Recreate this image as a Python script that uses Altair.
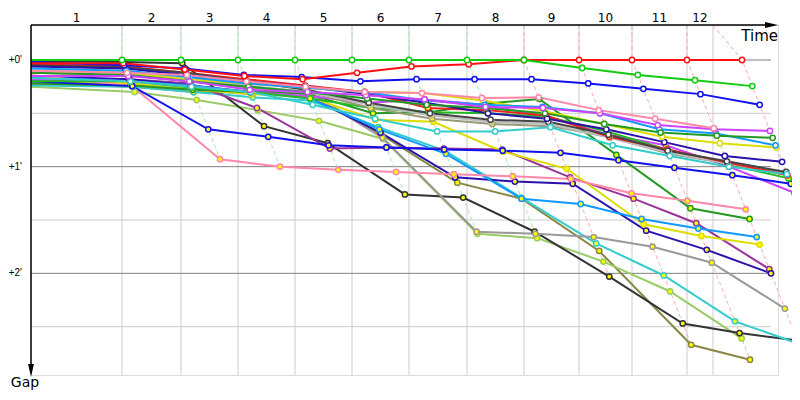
import altair as alt
import pandas as pd

# ---- checkpoint data (minutes) ----
grid_times = [2.167, 3.571, 4.929, 6.286, 7.643, 9.0, 10.381, 11.738, 13.048, 14.31, 15.619, 16.238]
leader_times = [2.167, 3.571, 4.929, 6.286, 7.643, 9.0, 10.381, 11.738, 13.048, 14.31, 15.619, 16.929]
lap_labels = ["1", "2", "3", "4", "5", "6", "7", "8", "9", "10", "11", "12"]
dash_colors = ["#a8e8a8"] * 7 + ["#ffaaaa"] * 5
gap_ticks = [0, 1, 2]
gap_tick_labels = ["+0'", "+1'", "+2'"]
major_lines = [0, 1, 2]
minor_lines = [0.5, 1.5, 2.5]

N = None
# gaps: [start, cp1 .. cp11, finish]
gap_green = [0, 0, 0, 0, 0, 0, 0, 0, 0, .075, .14, .19, .245]
gap_red = [.03, .03, .09, .15, .18, .12, .06, .04, 0, 0, 0, 0, 0]
gap_blue = [.02, .05, .08, .14, .16, .20, .18, .18, .18, .22, .27, .32, .42]
gap_pink_a = [.10, .12, .14, .20, .25, .30, .31, .356, .35, .47, .55, .64, N]
gap_violet_a = [.15, .15, .20, .28, .30, .33, .37, .44, .45, .50, .61, .65, .665]
gap_dgreen_a = [.12, .14, .20, .25, .30, .36, .42, .45, .50, .60, .68, .71, .73]
gap_lblue_a = [.08, .10, .16, .22, .26, .30, .38, .42, .44, .50, .65, .69, .80]
gap_yellow_a = [.10, .12, .18, .22, .26, .30, .31, .38, .48, .60, .72, .78, .82]
gap_navy_a = [.06, .08, .14, .20, .25, .32, .40, .50, .55, .65, .77, .90, .955]
gap_cyan_a = [.17, .20, .25, .30, .42, .55, .67, .67, .63, .80, .90, 1.0, 1.07]
gap_dgray = [.05, .07, .12, .20, .28, .40, .50, .56, .58, .70, .85, .95, 1.05]
gap_red_b = [.04, .06, .12, .18, .24, .30, .45, .47, .52, .72, .84, .96, 1.08]
gap_lgray = [.10, .12, .18, .24, .30, .42, .52, .58, .60, .73, .87, .97, 1.08]
gap_khaki = [.12, .14, .20, .26, .30, .45, .55, .60, .62, .72, .88, .97, 1.06]
gap_green_b = [.20, .20, .26, .30, .36, .45, .49, .50, .53, .67, .84, .98, 1.11]
gap_blue_b = [.20, .245, .65, .72, .80, .82, .84, .85, .87, .94, 1.01, 1.08, 1.16]
gap_violet_b = [.18, .20, .25, .30, .34, .40, .37, .42, .53, .70, .80, 1.0, 1.245]
gap_pink_b = [.14, .245, .93, 1.0, 1.03, 1.05, 1.07, 1.09, 1.115, 1.25, 1.32, 1.40, N]
gap_dgreen_b = [.22, .24, .28, .30, .32, .50, .49, .41, .365, .89, 1.39, 1.49, N]
gap_lblue_b = [.16, .20, .24, .30, .36, .65, .88, 1.30, 1.35, 1.49, 1.58, 1.66, N]
gap_yellow_b = [.20, .22, .28, .32, .35, .56, .58, .86, 1.02, 1.54, 1.65, 1.73, N]
gap_navy_b = [.15, .18, .24, .30, .35, .68, 1.10, 1.14, 1.16, 1.60, 1.78, 2.0, N]
gap_purple = [.20, .18, .22, .45, .83, .82, .83, .84, 1.10, 1.30, 1.53, 1.96, N]
gap_gray = [.22, .24, .28, .32, .30, .73, 1.61, 1.63, 1.66, 1.75, 1.90, 2.33, N]
gap_cyan_b = [.24, .25, .30, .35, .38, .63, .85, 1.29, 1.72, 2.02, 2.45, 2.66, N]
gap_black = [.01, .02, .03, .62, .78, 1.26, 1.29, 1.61, 2.03, 2.47, 2.56, 2.63, N]
gap_lgreen = [.25, .30, .375, .47, .57, .74, 1.63, 1.67, 1.89, 2.17, 2.61, N, N]
gap_olive = [.22, .25, .30, .30, .30, .70, 1.15, 1.30, 1.79, 2.67, 2.81, N, N]

series_names = ["green", "red", "blue", "pink_a", "violet_a", "dgreen_a", "lblue_a", "yellow_a",
                "navy_a", "cyan_a", "dgray", "red_b", "lgray", "khaki", "green_b", "blue_b",
                "violet_b", "pink_b", "dgreen_b", "lblue_b", "yellow_b", "navy_b", "purple",
                "gray", "cyan_b", "black", "lgreen", "olive"]
series_colors = ["#11cc11", "#ff1111", "#1111ee", "#ff88aa", "#cc44ff", "#229922", "#1199ff", "#dddd00",
                 "#2a11aa", "#33cccc", "#444444", "#ee2222", "#bbbbbb", "#999977", "#22bb22", "#1111ee",
                 "#cc44ff", "#ff88aa", "#229922", "#1199ff", "#dddd00", "#2a11aa", "#993399",
                 "#999999", "#33cccc", "#333333", "#99cc66", "#888844"]
series_fills = ["#ffffff"] * 11 + ["#ffff00"] * 17
series_gaps = [gap_green, gap_red, gap_blue, gap_pink_a, gap_violet_a, gap_dgreen_a, gap_lblue_a,
               gap_yellow_a, gap_navy_a, gap_cyan_a, gap_dgray, gap_red_b, gap_lgray, gap_khaki,
               gap_green_b, gap_blue_b, gap_violet_b, gap_pink_b, gap_dgreen_b, gap_lblue_b,
               gap_yellow_b, gap_navy_b, gap_purple, gap_gray, gap_cyan_b, gap_black, gap_lgreen,
               gap_olive]

Y_TOP, Y_BOT = -0.328, 2.953
X_MAX = 17.786

rows = []
for i in reversed(range(len(series_names))):
    for k, g in enumerate(series_gaps[i]):
        if g is None:
            continue
        t = 0.0 if k == 0 else leader_times[k - 1] + g
        rows.append(dict(rider=f"{i:02d}_{series_names[i]}", z=i, k=k, t=t, gap=g,
                         color=series_colors[i], fill=series_fills[i]))
df = pd.DataFrame(rows)
pts = df[df.k > 0]

drows = []
for k in range(1, 13):
    gs = sorted(s[k] for s in series_gaps if s[k] is not None)
    drows.append(dict(cp=k, o=-1, t=grid_times[k - 1], gap=Y_TOP, dc=dash_colors[k - 1]))
    for j, g in enumerate(gs):
        drows.append(dict(cp=k, o=j, t=leader_times[k - 1] + g, gap=g, dc=dash_colors[k - 1]))
ddf = pd.DataFrame(drows)

xs = alt.Scale(domain=[0, X_MAX], nice=False, zero=False)
ys = alt.Scale(domain=[Y_TOP, Y_BOT], nice=False, zero=False, reverse=True)
X = lambda f="t": alt.X(f"{f}:Q", scale=xs, axis=None)
Y = lambda f="gap": alt.Y(f"{f}:Q", scale=ys, axis=None)

vgrid = alt.Chart(pd.DataFrame({"t": grid_times})).mark_rule(color="#cccccc", strokeWidth=1).encode(
    x=X(), y=alt.value(0), y2=alt.value(350))
hminor = alt.Chart(pd.DataFrame({"gap": minor_lines})).mark_rule(color="#cccccc", strokeWidth=1).encode(
    y=Y(), x=alt.value(0), x2=alt.value(740))
hmajor = alt.Chart(pd.DataFrame({"gap": major_lines})).mark_rule(color="#808080", strokeWidth=1).encode(
    y=Y(), x=alt.value(0), x2=alt.value(740))

dashed = alt.Chart(ddf).mark_line(strokeWidth=1, strokeDash=[4, 3]).encode(
    x=X(), y=Y(), color=alt.Color("dc:N", scale=None), detail="cp:N", order="o:Q")

lines = alt.Chart(df).mark_line(strokeWidth=2).encode(
    x=X(), y=Y(), color=alt.Color("color:N", scale=None), detail="rider:N", order="k:Q")
points = alt.Chart(pts).mark_point(shape="circle", filled=True, size=28, strokeWidth=1.5, opacity=1).encode(
    x=X(), y=Y(), fill=alt.Fill("fill:N", scale=None), stroke=alt.Stroke("color:N", scale=None))

mids = [(grid_times[i] + (grid_times[i - 1] if i > 0 else 0)) / 2 for i in range(12)]
laps = alt.Chart(pd.DataFrame({"t": mids, "lab": lap_labels})).mark_text(
    fontSize=12, font="DejaVu Sans", color="#000000", baseline="middle").encode(
    x=X(), y=alt.value(-7), text="lab:N")
ylabs = alt.Chart(pd.DataFrame({"gap": gap_ticks, "lab": gap_tick_labels})).mark_text(
    fontSize=10, font="Liberation Sans", color="#000000", align="right", baseline="middle").encode(
    y=Y(), x=alt.value(-9), text="lab:N")

xaxis = alt.Chart().mark_rule(color="#000000", strokeWidth=1.5).encode(
    x=alt.value(0), x2=alt.value(742), y=alt.value(0))
yaxis = alt.Chart().mark_rule(color="#000000", strokeWidth=1.5).encode(
    y=alt.value(0), y2=alt.value(346), x=alt.value(0))
xarrow = alt.Chart().mark_point(shape="M1,0L-1,-0.45L-1,0.45Z", filled=True, color="#000000",
                                size=169, opacity=1).encode(x=alt.value(740.5), y=alt.value(0))
yarrow = alt.Chart().mark_point(shape="M0,1L-0.45,-1L0.45,-1Z", filled=True, color="#000000",
                                size=169, opacity=1).encode(x=alt.value(0), y=alt.value(345.5))
tlabel = alt.Chart().mark_text(text="Time", fontSize=15, font="DejaVu Sans", align="right",
                               baseline="middle", color="#000000").encode(x=alt.value(747), y=alt.value(11))
glabel = alt.Chart().mark_text(text="Gap", fontSize=14, font="DejaVu Sans", align="center",
                               baseline="middle", color="#000000").encode(x=alt.value(-6), y=alt.value(358))

chart = alt.layer(vgrid, hminor, hmajor, dashed, lines, points, laps, ylabs,
                  xaxis, yaxis, xarrow, yarrow, tlabel, glabel).properties(
    width=747, height=350, autosize="none",
    padding={"left": 23, "top": 17, "right": 14, "bottom": 17},
).configure_view(stroke=None).configure(background="#ffffff")

chart.save("out.html", embed_options={"renderer": "svg", "actions": False})
